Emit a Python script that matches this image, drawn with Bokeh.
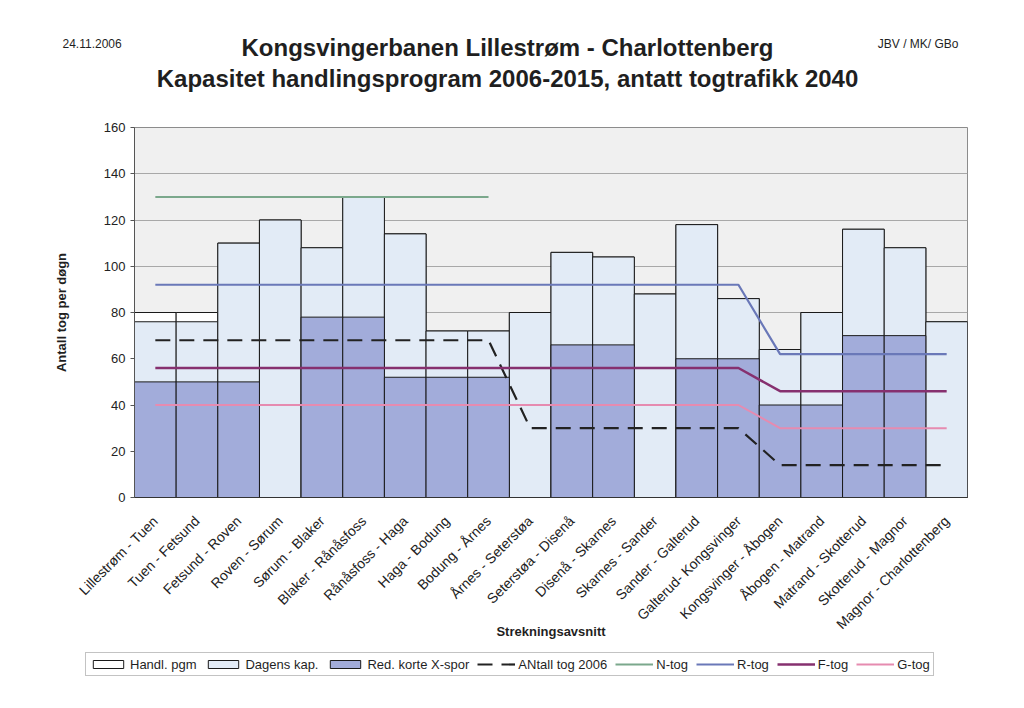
import math
from bokeh.plotting import figure
from bokeh.layouts import column
from bokeh.models import (ColumnDataSource, FactorRange, Range1d, FixedTicker,
                          Label, Legend, LegendItem)
from bokeh.embed import file_html
from bokeh.resources import INLINE

NaN = float("nan")

categories = [
    "Lillestrøm - Tuen", "Tuen - Fetsund", "Fetsund - Roven", "Roven - Sørum",
    "Sørum - Blaker", "Blaker - Rånåsfoss", "Rånåsfoss - Haga", "Haga - Bodung",
    "Bodung - Årnes", "Årnes - Seterstøa", "Seterstøa - Disenå", "Disenå - Skarnes",
    "Skarnes - Sander", "Sander - Galterud", "Galterud- Kongsvinger",
    "Kongsvinger - Åbogen", "Åbogen - Matrand", "Matrand - Skotterud",
    "Skotterud - Magnor", "Magnor - Charlottenberg",
]

handl_pgm  = [80, 80, 110, 120, 108, 130, 114, 72, 72, 80, 106, 104, 88, 118, 86, 64, 80, 116, 108, 76]
dagens_kap = [76, 76, 110, 120, 108, 130, 114, 72, 72, 80, 106, 104, 88, 118, 86, 64, 80, 116, 108, 76]
red_korte  = [50, 50, 50, 0, 78, 78, 52, 52, 52, 0, 66, 66, 0, 60, 60, 40, 40, 70, 70, 0]

antall_2006 = [68, 68, 68, 68, 68, 68, 68, 68, 68, 30, 30, 30, 30, 30, 30, 14, 14, 14, 14, 14]
n_tog = [130, 130, 130, 130, 130, 130, 130, 130, 130, NaN, NaN, NaN, NaN, NaN, NaN, NaN, NaN, NaN, NaN, NaN]
r_tog = [92, 92, 92, 92, 92, 92, 92, 92, 92, 92, 92, 92, 92, 92, 92, 62, 62, 62, 62, 62]
f_tog = [56, 56, 56, 56, 56, 56, 56, 56, 56, 56, 56, 56, 56, 56, 56, 46, 46, 46, 46, 46]
g_tog = [40, 40, 40, 40, 40, 40, 40, 40, 40, 40, 40, 40, 40, 40, 40, 30, 30, 30, 30, 30]

y_ticks = [0, 20, 40, 60, 80, 100, 120, 140, 160]

legend_labels = ["Handl. pgm", "Dagens kap.", "Red. korte X-spor", "ANtall tog 2006",
                 "N-tog", "R-tog", "F-tog", "G-tog"]

title_1 = "Kongsvingerbanen Lillestrøm - Charlottenberg"
title_2 = "Kapasitet handlingsprogram 2006-2015, antatt togtrafikk 2040"
date_text = "24.11.2006"
author_text = "JBV / MK/ GBo"
y_title = "Antall tog per døgn"
x_title = "Strekningsavsnitt"

FONT = "Liberation Sans"
W = 1008
TOP_H = 117
MAIN_TOP = 10
MAIN_BOTTOM = 150
MAIN_H = MAIN_TOP + 370 + MAIN_BOTTOM
BOT_H = 692 - TOP_H - MAIN_H

BAR_STYLES = [
    dict(fill_color="white", line_color="#1a1a1a", line_width=1),
    dict(fill_color="#E2EBF6", line_color="#1a1a1a", line_width=1),
    dict(fill_color="#A2ACDA", line_color="#1a1a1a", line_width=1),
]
LINE_STYLES = [
    dict(line_color="#222222", line_width=2.2, line_dash="15 9"),
    dict(line_color="#7BA88C", line_width=2),
    dict(line_color="#6A78B8", line_width=2.2),
    dict(line_color="#86306F", line_width=2.5),
    dict(line_color="#E68BB0", line_width=2),
]


def blank_fig(h):
    f = figure(width=W, height=h, x_range=Range1d(0, W), y_range=Range1d(0, h),
               x_axis_type=None, y_axis_type=None, min_border=0,
               output_backend="svg", toolbar_location=None)
    f.grid.visible = False
    f.outline_line_color = None
    f.background_fill_color = "white"
    f.border_fill_color = "white"
    f.frame_align = False
    return f


# ---------------- header (titles) ----------------
top = blank_fig(TOP_H)

def add_label(fig, x, y, text, size, bold=False, align="left"):
    fig.add_layout(Label(x=x, y=y, text=text,
                         text_font=FONT, text_font_size=size,
                         text_font_style="bold" if bold else "normal",
                         text_color="#1f1f1f", text_align=align,
                         text_baseline="middle"))

add_label(top, 507, TOP_H - 47, title_1, "24px", bold=True, align="center")
add_label(top, 507, TOP_H - 78, title_2, "24px", bold=True, align="center")
add_label(top, 62, TOP_H - 43, date_text, "12px")
add_label(top, 958, TOP_H - 43, author_text, "12px", align="right")

# ---------------- main chart ----------------
src = ColumnDataSource(dict(
    cat=categories, handl=handl_pgm, dagens=dagens_kap, red=red_korte,
    antall=antall_2006, n=n_tog, r=r_tog, f=f_tog, g=g_tog,
))

p = figure(
    x_range=FactorRange(factors=categories, range_padding=0),
    y_range=Range1d(0, 160),
    width=W, height=MAIN_H,
    output_backend="svg", toolbar_location=None,
    min_border_left=134, min_border_right=W - 967,
    min_border_top=MAIN_TOP, min_border_bottom=MAIN_BOTTOM,
)
p.frame_align = False
p.background_fill_color = "#F0F0F0"
p.border_fill_color = "white"
p.outline_line_color = "#8C8C8C"

for col, st in zip(["handl", "dagens", "red"], BAR_STYLES):
    p.vbar(x="cat", top=col, width=1.0, source=src, **st)
for col, st in zip(["antall", "n", "r", "f", "g"], LINE_STYLES):
    p.line(x="cat", y=col, source=src, **st)

p.yaxis.ticker = FixedTicker(ticks=y_ticks)
p.ygrid.ticker = FixedTicker(ticks=y_ticks)
p.xgrid.grid_line_color = None
p.ygrid.grid_line_color = "#A8A8A8"
p.yaxis.axis_line_color = "#555555"
p.yaxis.major_tick_line_color = "#555555"
p.yaxis.major_tick_in = 0
p.yaxis.major_tick_out = 4
p.yaxis.minor_tick_line_color = None
p.yaxis.major_label_standoff = 5
p.yaxis.major_label_text_font = FONT
p.yaxis.major_label_text_font_size = "13px"
p.yaxis.major_label_text_color = "#222222"
p.yaxis.axis_label = y_title
p.yaxis.axis_label_text_font = FONT
p.yaxis.axis_label_text_font_size = "13px"
p.yaxis.axis_label_text_font_style = "bold"
p.yaxis.axis_label_text_color = "#1f1f1f"
p.yaxis.axis_label_standoff = 32

p.xaxis.axis_line_color = "#333333"
p.xaxis.major_tick_line_color = None
p.xaxis.major_label_orientation = math.pi / 4
p.xaxis.major_label_standoff = 15
p.xaxis.major_label_text_font = FONT
p.xaxis.major_label_text_font_size = "14px"
p.xaxis.major_label_text_color = "#222222"
p.xaxis.axis_label = x_title
p.xaxis.axis_label_text_font = FONT
p.xaxis.axis_label_text_font_size = "13px"
p.xaxis.axis_label_text_font_style = "bold"
p.xaxis.axis_label_text_color = "#1f1f1f"
p.xaxis.axis_label_standoff = -17

# ---------------- legend strip ----------------
bot = blank_fig(BOT_H)
# off-screen placeholders so the legend can draw its swatches
hidden = ColumnDataSource(dict(x=[-100, -90], y=[-100, -100]))
swatches = []
for st in BAR_STYLES:
    swatches.append(bot.vbar(x="x", top="y", width=1.0, source=hidden, **st))
for st in LINE_STYLES:
    swatches.append(bot.line(x="x", y="y", source=hidden, **st))

legend = Legend(
    items=[LegendItem(label=lab, renderers=[r]) for lab, r in zip(legend_labels, swatches)],
    orientation="horizontal", location=(85, BOT_H - 22 - 654 + (TOP_H + MAIN_H)), margin=0,
    padding=3, spacing=8, label_standoff=3,
    glyph_width=38, glyph_height=10, label_height=16,
    label_text_font=FONT, label_text_font_size="13px", label_text_color="#1f1f1f",
    border_line_color="#888888", background_fill_color="white", background_fill_alpha=1.0,
)
bot.add_layout(legend)

layout = column(top, p, bot, spacing=0)
open("out.html", "w").write(file_html(layout, INLINE))
